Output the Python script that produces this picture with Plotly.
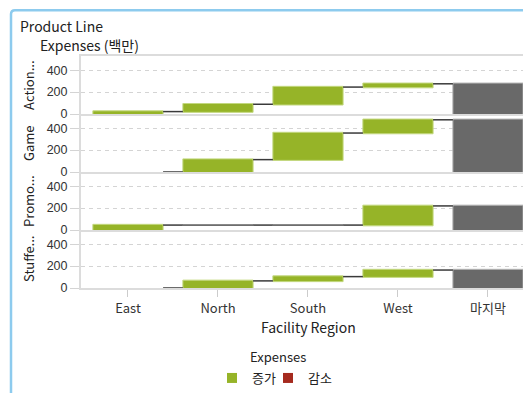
import plotly.graph_objects as go
from plotly.subplots import make_subplots

categories = ["East", "North", "South", "West", "마지막"]
product_lines = ["Action...", "Game", "Promo...", "Stuffe..."]
action = [22, 67, 157, 30]
game = [0, 113, 243, 121]
promo = [45, 0, 0, 175]
stuffed = [0, 65, 39, 60]
series = [action, game, promo, stuffed]
y_ticks = [0, 200, 400]
y_tick_labels = ["0", "200", "400"]
legend_labels = ["증가", "감소"]

GREEN = "#96B428"
RED = "#A52A1E"
GRAY = "#696969"
CONN = "#3A3A3A"
FONT = "Noto Sans CJK KR"
TICKFONT = "Liberation Sans"

# the page body adds an 8px margin; the figure is sized to fill the window
W, H = 523, 385
L, R, T, B = 73, 0, 48, 99
PW = W - L - R
PH = H - T - B


def px_x(p):  # window pixel -> paper
    return (p - 8 - L) / PW


def px_y(p):
    return (H - B - (p - 8)) / PH


fig = make_subplots(rows=4, cols=1, shared_xaxes=True, vertical_spacing=0.0)

for i, vals in enumerate(series):
    fig.add_trace(
        go.Waterfall(
            x=categories,
            y=vals + [0],
            measure=["relative"] * len(vals) + ["total"],
            increasing=dict(marker=dict(color=GREEN, line=dict(color="#C3D87F", width=1))),
            decreasing=dict(marker=dict(color=RED, line=dict(color="#C87A70", width=1))),
            totals=dict(marker=dict(color=GRAY, line=dict(color="#B4B4B4", width=1))),
            connector=dict(mode="between", line=dict(color=CONN, width=1.5)),
            textinfo="none",
            showlegend=False,
        ),
        row=i + 1,
        col=1,
    )
    # zero-change steps are shown as a flat line at the running total
    cum = 0
    zx, zbase = [], []
    for c, v in zip(categories, vals):
        cum += v
        if v == 0 and cum > 0:
            zx.append(c)
            zbase.append(cum - 3)
    if zx:
        fig.add_trace(
            go.Bar(x=zx, base=zbase, y=[6] * len(zx), width=0.78,
                   marker=dict(color="#6E6E6E", line=dict(color="#6E6E6E", width=1.2)),
                   showlegend=False, hoverinfo="skip"),
            row=i + 1, col=1,
        )

# legend entries
fig.add_trace(go.Scatter(x=[None], y=[None], mode="markers", name=legend_labels[0], legend="legend",
                         marker=dict(symbol="square", size=10, color=GREEN)), row=4, col=1)
fig.add_trace(go.Scatter(x=[None], y=[None], mode="markers", name=legend_labels[1], legend="legend2",
                         marker=dict(symbol="square", size=10, color=RED)), row=4, col=1)

for i in range(4):
    fig.update_yaxes(
        range=[0, 530],
        tickvals=y_ticks,
        ticktext=y_tick_labels,
        showgrid=True,
        gridcolor="#D4D4D4",
        griddash="4px,4px",
        gridwidth=1,
        ticks="outside",
        ticklen=9,
        tickcolor="#D4D4D4",
        showline=True,
        linecolor="#DCDCDC",
        linewidth=2,
        zeroline=False,
        tickfont=dict(family=TICKFONT, size=12.5, color="#333333"),
        fixedrange=True,
        row=i + 1,
        col=1,
    )
    fig.update_xaxes(
        range=[-0.522, 4.478],
        showline=True,
        mirror=(i == 0),
        linecolor="#DCDCDC",
        linewidth=2,
        showgrid=False,
        zeroline=False,
        ticks="outside" if i == 3 else "",
        ticklen=7,
        tickcolor="#CCCCCC",
        showticklabels=(i == 3),
        tickfont=dict(family=FONT, size=13, color="#333333"),
        row=i + 1,
        col=1,
    )

annotations = [
    dict(text="Product Line", x=px_x(18), y=px_y(25), xanchor="left", yanchor="middle",
         font=dict(family=FONT, size=14, color="#222222")),
    dict(text="Expenses (백만)", x=px_x(38), y=px_y(45), xanchor="left", yanchor="middle",
         font=dict(family=FONT, size=14, color="#222222")),
    dict(text="Facility Region", x=px_x(308), y=px_y(334), xanchor="center", yanchor="middle",
         font=dict(family=FONT, size=14, color="#222222")),
    dict(text="Expenses", x=px_x(278), y=px_y(364), xanchor="center", yanchor="middle",
         font=dict(family=FONT, size=13, color="#222222")),
]
for i, name in enumerate(product_lines):
    yref = "y domain" if i == 0 else f"y{i + 1} domain"
    annotations.append(dict(text=name, x=px_x(28), xref="paper", y=0.5, yref=yref,
                            textangle=-90, xanchor="center", yanchor="middle",
                            font=dict(family=FONT, size=13, color="#222222")))
for a in annotations:
    a.setdefault("xref", "paper")
    a.setdefault("yref", "paper")
    a["showarrow"] = False

legend_common = dict(
    orientation="h",
    yanchor="top",
    font=dict(family=FONT, size=13, color="#222222"),
    bgcolor="rgba(0,0,0,0)",
    itemwidth=30,
)

fig.update_layout(
    width=W,
    height=H,
    margin=dict(l=L, r=R, t=T, b=B),
    paper_bgcolor="white",
    plot_bgcolor="white",
    waterfallgap=0.22,
    annotations=annotations,
    showlegend=True,
    legend=dict(x=px_x(212), xanchor="left", y=px_y(371), **legend_common),
    legend2=dict(x=px_x(268), xanchor="left", y=px_y(371), **legend_common),
    shapes=[
        dict(type="path", xref="paper", yref="paper",
             path=(f"M {px_x(11)},{px_y(H + 40)} L {px_x(11)},{px_y(13)} "
                   f"Q {px_x(11)},{px_y(9)} {px_x(15)},{px_y(9)} "
                   f"L {px_x(W + 40)},{px_y(9)}"),
             line=dict(color="#8DCBEE", width=2.5), layer="above"),
    ],
)

fig.write_html("out.html")
